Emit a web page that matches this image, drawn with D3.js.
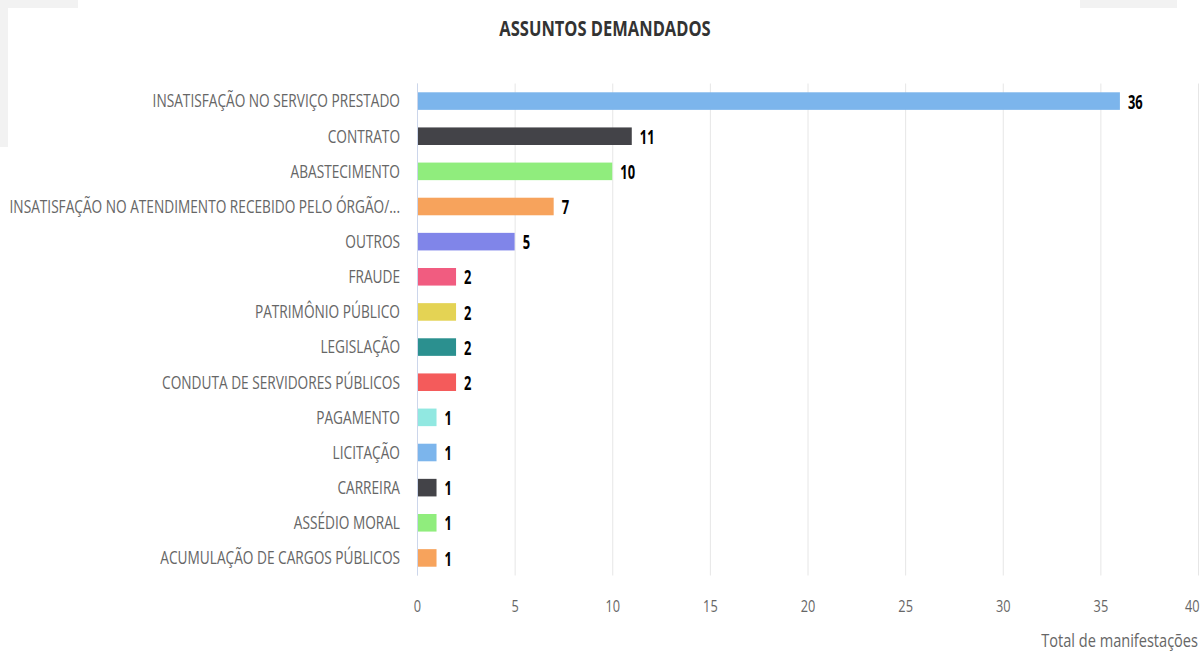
<!DOCTYPE html>
<html>
<head>
<meta charset="utf-8">
<script src="https://cdn.jsdelivr.net/npm/d3@7"></script>
<style>
  body { margin: 0; background: #fff; }
  svg { display: block; font-family: "Open Sans", sans-serif; }
</style>
</head>
<body>
<svg width="1200" height="654"></svg>
<script>
// data
const categories = [
  "INSATISFAÇÃO NO SERVIÇO PRESTADO",
  "CONTRATO",
  "ABASTECIMENTO",
  "INSATISFAÇÃO NO ATENDIMENTO RECEBIDO PELO ÓRGÃO/...",
  "OUTROS",
  "FRAUDE",
  "PATRIMÔNIO PÚBLICO",
  "LEGISLAÇÃO",
  "CONDUTA DE SERVIDORES PÚBLICOS",
  "PAGAMENTO",
  "LICITAÇÃO",
  "CARREIRA",
  "ASSÉDIO MORAL",
  "ACUMULAÇÃO DE CARGOS PÚBLICOS"
];
const totals = [36, 11, 10, 7, 5, 2, 2, 2, 2, 1, 1, 1, 1, 1];
const xTicks = [0, 5, 10, 15, 20, 25, 30, 35, 40];
const palette = ["#7cb5ec", "#434348", "#90ed7d", "#f7a35c", "#8085e9",
  "#f15c80", "#e4d354", "#2b908f", "#f45b5b", "#91e8e1"];

var svg = d3.select("svg"),
  width = +svg.attr("width"),
  height = +svg.attr("height");

let plotLeft = 417, plotRight = 1198, plotTop = 83.5, plotBottom = 575.5;

// gray page corners behind the card
svg.append("path")
  .attr("d", "M0,0H78V8H8V147H0Z")
  .attr("fill", "#f2f2f2");
svg.append("rect")
  .attr("x", 1080).attr("y", 0).attr("width", 97).attr("height", 8)
  .attr("fill", "#f2f2f2");

let x = d3.scaleLinear()
  .domain([0, 40])
  .range([plotLeft, plotRight]);

let y = d3.scaleBand()
  .domain(categories)
  .range([plotTop, plotBottom])
  .paddingInner(0.5)
  .paddingOuter(0.25);

let color = d3.scaleOrdinal()
  .domain(categories)
  .range(palette);

// grid
let grid = svg.append("g")
  .attr("transform", "translate(0," + plotBottom + ")")
  .call(d3.axisBottom(x).tickValues(xTicks).tickSize(-(plotBottom - plotTop)).tickFormat(""));
grid.select(".domain").remove();
grid.selectAll("line").attr("stroke", "#e6e6e6");

// x tick labels
let xAxis = svg.append("g")
  .attr("transform", "translate(0," + plotBottom + ")")
  .call(d3.axisBottom(x).tickValues(xTicks).tickSize(0).tickPadding(24));
xAxis.select(".domain").remove();
xAxis.selectAll("text")
  .attr("transform", "scale(0.75,1)")
  .style("font-family", "Open Sans")
  .style("font-size", "17px")
  .attr("fill", "#666");
// last label justified inside the chart
xAxis.selectAll("text")
  .filter(function (d) { return d === 40 })
  .attr("text-anchor", "end")
  .attr("x", 1 / 0.75);

// y axis
let ySx = 0.76;
let yAxis = svg.append("g")
  .attr("transform", "translate(" + plotLeft + ",0)")
  .call(d3.axisLeft(y).tickSize(0));
yAxis.select(".domain")
  .attr("stroke", "#ccd6eb")
  .attr("d", "M0.5," + plotTop + "V" + plotBottom);
yAxis.selectAll("text")
  .attr("x", -17 / ySx)
  .attr("dy", "0.35em")
  .attr("transform", "scale(" + ySx + ",1)")
  .style("font-family", "Open Sans")
  .style("font-size", "18px")
  .attr("fill", "#666");

// bars
svg.selectAll("rect.bar")
  .data(categories)
  .enter().append("rect")
  .attr("class", "bar")
  .attr("x", x(0) + 1)
  .attr("y", function (d) { return y(d) })
  .attr("height", y.bandwidth())
  .attr("width", function (d, i) { return x(totals[i]) - x(0) - 1 })
  .attr("fill", function (d) { return color(d) });

// value labels
svg.selectAll("g.lbl")
  .data(categories)
  .enter().append("g")
  .attr("class", "lbl")
  .attr("transform", function (d, i) {
    return "translate(" + (x(totals[i]) + 8) + "," + (y(d) + y.bandwidth() / 2 + 1) + ")"
  })
  .append("text")
  .attr("transform", "scale(0.68,1)")
  .attr("dy", "0.35em")
  .style("font-size", "19px")
  .style("font-weight", "bold")
  .attr("fill", "#000")
  .text(function (d, i) { return totals[i] });

// title
svg.append("text")
  .attr("transform", "translate(605,36) scale(0.75,1)")
  .attr("text-anchor", "middle")
  .style("font-size", "22px")
  .style("font-weight", "bold")
  .attr("fill", "#333")
  .text("ASSUNTOS DEMANDADOS");

// axis title
svg.append("text")
  .attr("transform", "translate(1198,647) scale(0.81,1)")
  .attr("text-anchor", "end")
  .style("font-size", "18px")
  .attr("fill", "#666")
  .text("Total de manifestações");
</script>
</body>
</html>
